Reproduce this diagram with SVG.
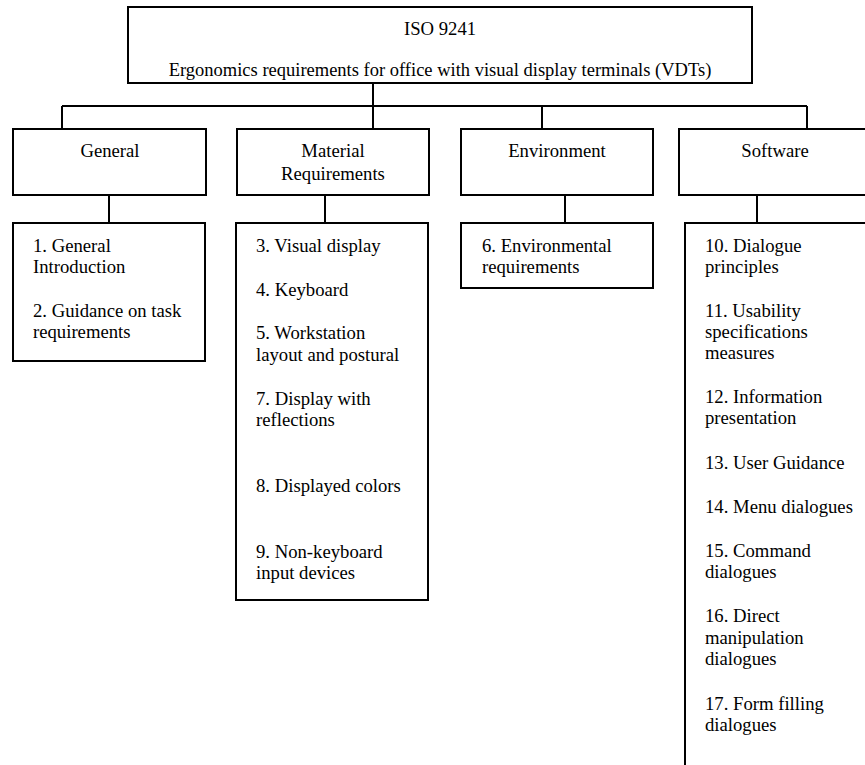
<svg xmlns="http://www.w3.org/2000/svg" width="865" height="765" viewBox="0 0 865 765" font-family="'Liberation Serif', 'Times New Roman', Times, 'DejaVu Serif', serif">
<style>
rect{fill:#fff;stroke:#000;stroke-width:2}
line{stroke:#000;stroke-width:2}
text{font-family:'Liberation Serif','Times New Roman',Times,'DejaVu Serif',serif;font-size:18.7px;fill:#000}
.c{text-anchor:middle}
</style>
<rect x="0" y="0" width="865" height="765" style="stroke:none"/>
<g id="connectors">
<line x1="373" y1="83" x2="373" y2="129"/>
<line x1="62" y1="106" x2="807" y2="106"/>
<line x1="62" y1="106" x2="62" y2="129"/>
<line x1="542" y1="106" x2="542" y2="129"/>
<line x1="807" y1="106" x2="807" y2="129"/>
<line x1="109" y1="195" x2="109" y2="223"/>
<line x1="325" y1="195" x2="325" y2="223"/>
<line x1="565" y1="195" x2="565" y2="223"/>
<line x1="757" y1="195" x2="757" y2="223"/>
</g>
<g id="root">
<rect x="128" y="7" width="624" height="76"/>
<text class="c" x="440" y="35">ISO 9241</text>
<text class="c" x="440" y="76" style="font-size:18.5px">Ergonomics requirements for office with visual display terminals (VDTs)</text>
</g>
<g id="general">
<rect x="13" y="129" width="193" height="66"/>
<text class="c" x="110" y="157">General</text>
</g>
<g id="material">
<rect x="237" y="129" width="192" height="66"/>
<text class="c" x="333" y="157">Material</text>
<text class="c" x="333" y="180">Requirements</text>
</g>
<g id="environment">
<rect x="461" y="129" width="192" height="66"/>
<text class="c" x="557" y="157">Environment</text>
</g>
<g id="software">
<rect x="679" y="129" width="192" height="66"/>
<text class="c" x="775" y="157">Software</text>
</g>
<g id="general-items">
<rect x="13" y="223" width="192" height="138"/>
<text x="33" y="252">1. General</text>
<text x="33" y="273">Introduction</text>
<text x="33" y="317">2. Guidance on task</text>
<text x="33" y="338">requirements</text>
</g>
<g id="material-items">
<rect x="236" y="223" width="192" height="377"/>
<text x="256" y="252">3. Visual display</text>
<text x="256" y="296">4. Keyboard</text>
<text x="256" y="339">5. Workstation</text>
<text x="256" y="361">layout and postural</text>
<text x="256" y="405">7. Display with</text>
<text x="256" y="426">reflections</text>
<text x="256" y="492">8. Displayed colors</text>
<text x="256" y="558">9. Non-keyboard</text>
<text x="256" y="579">input devices</text>
</g>
<g id="environment-items">
<rect x="461" y="223" width="192" height="65"/>
<text x="482" y="252">6. Environmental</text>
<text x="482" y="273">requirements</text>
</g>
<g id="software-items">
<rect x="685" y="223" width="192" height="600"/>
<text x="705" y="252">10. Dialogue</text>
<text x="705" y="273">principles</text>
<text x="705" y="317">11. Usability</text>
<text x="705" y="338">specifications</text>
<text x="705" y="359">measures</text>
<text x="705" y="403">12. Information</text>
<text x="705" y="424">presentation</text>
<text x="705" y="469">13. User Guidance</text>
<text x="705" y="513">14. Menu dialogues</text>
<text x="705" y="557">15. Command</text>
<text x="705" y="578">dialogues</text>
<text x="705" y="622">16. Direct</text>
<text x="705" y="644">manipulation</text>
<text x="705" y="665">dialogues</text>
<text x="705" y="710">17. Form filling</text>
<text x="705" y="731">dialogues</text>
</g>
</svg>
